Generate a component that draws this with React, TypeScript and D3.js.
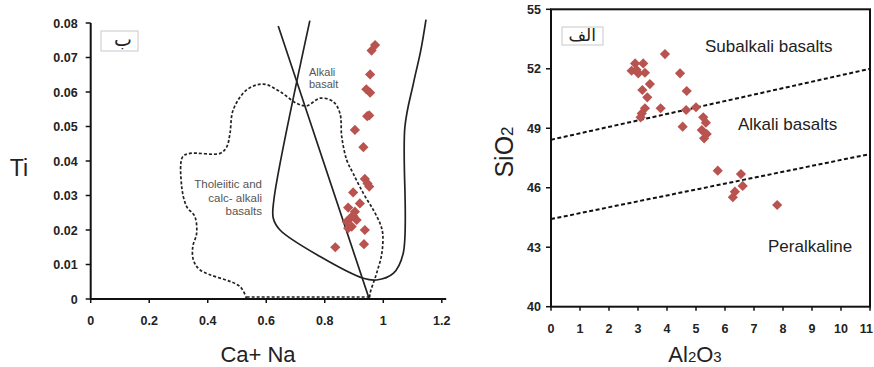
import * as d3 from 'd3';

// ---- left diagram: Ti vs Ca+Na ----
const leftXTicks = [0, 0.2, 0.4, 0.6, 0.8, 1, 1.2];
const leftYTicks = [0, 0.01, 0.02, 0.03, 0.04, 0.05, 0.06, 0.07, 0.08];

// samples [Ca+Na, Ti]
const leftSamples: [number, number][] = [
  [0.972, 0.0736], [0.96, 0.072], [0.955, 0.0651], [0.942, 0.0608], [0.955, 0.0598],
  [0.945, 0.053], [0.952, 0.0532], [0.903, 0.049], [0.932, 0.044], [0.937, 0.0348],
  [0.952, 0.0326], [0.946, 0.0335], [0.897, 0.0309], [0.92, 0.0277], [0.88, 0.0265],
  [0.903, 0.0253], [0.889, 0.0236], [0.909, 0.0229], [0.875, 0.0224], [0.892, 0.021],
  [0.88, 0.0205], [0.898, 0.024], [0.937, 0.02], [0.934, 0.0159], [0.836, 0.015],
];

// straight boundary crossing the field
const dividerLine: [number, number][] = [[0.641, 0.0791], [0.952, 0]];

// alkali basalt field boundary (solid)
const alkaliField: [number, number][] = [
  [0.749, 0.0807], [0.626, 0.0287], [0.624, 0.0234], [0.647, 0.02], [0.784, 0.0123],
  [0.932, 0.006], [0.977, 0.0055], [1.034, 0.0074], [1.068, 0.0132], [1.074, 0.05],
  [1.103, 0.0625], [1.128, 0.072], [1.146, 0.081],
];

// tholeiitic & calc-alkali field (dashed)
const tholeiiticField: [number, number][] = [
  [0.533, 0], [0.51, 0.0036], [0.374, 0.0084], [0.351, 0.0113], [0.349, 0.0152],
  [0.362, 0.019], [0.356, 0.0239], [0.328, 0.0268], [0.311, 0.0326], [0.314, 0.0412],
  [0.339, 0.0422], [0.442, 0.0422], [0.465, 0.0441], [0.476, 0.048], [0.487, 0.0548],
  [0.533, 0.0606], [0.59, 0.0623], [0.647, 0.0601], [0.704, 0.0567], [0.738, 0.056],
  [0.784, 0.0582], [0.829, 0.0572], [0.852, 0.0538], [0.858, 0.047], [0.875, 0.0403],
  [0.897, 0.0364], [0.932, 0.0306], [0.966, 0.0258], [0.989, 0.0219], [0.998, 0.019],
  [0.995, 0.0132], [0.977, 0.0074], [0.955, 0.0017], [0.953, 0],
];
const tholeiiticBase: [number, number][] = [[0.533, 0], [0.953, 0]];

// ---- right diagram: SiO2 vs Al2O3 ----
const rightXTicks = [0, 1, 2, 3, 4, 5, 6, 7, 8, 9, 10, 11];
const rightYTicks = [40, 43, 46, 49, 52, 55];

// samples [Al2O3, SiO2]
const rightSamples: [number, number][] = [
  [3.93, 52.74], [2.9, 52.27], [3.18, 52.27], [2.78, 51.9], [3.01, 51.77],
  [3.24, 51.8], [2.95, 51.95], [4.45, 51.77], [3.41, 51.23], [4.68, 50.88],
  [3.15, 50.93], [3.32, 50.56], [3.78, 50.01], [3.24, 50.01], [3.13, 49.75],
  [3.09, 49.55], [4.66, 49.92], [5.0, 50.06], [5.25, 49.55], [5.34, 49.28],
  [4.54, 49.08], [5.2, 48.91], [5.37, 48.71], [5.28, 48.49], [5.75, 46.86],
  [6.55, 46.69], [6.61, 46.09], [6.34, 45.8], [6.27, 45.52], [7.8, 45.13],
];

const upperDivider: [number, number][] = [[0, 48.42], [11, 52.0]];
const lowerDivider: [number, number][] = [[0, 44.42], [11, 47.7]];

const RED = '#b9534f';
const FONT = 'Liberation Sans, Arial, sans-serif';
const ARABIC = 'DejaVu Sans, sans-serif';

export default function App() {
  const lx = d3.scaleLinear().domain([0, 1.2]).range([90.7, 441.8]);
  const ly = d3.scaleLinear().domain([0, 0.08]).range([299, 23]);
  const rx = d3.scaleLinear().domain([0, 11]).range([551, 870]);
  const ry = d3.scaleLinear().domain([40, 55]).range([306.7, 9.3]);

  const lLine = d3.line<[number, number]>().x(d => lx(d[0])).y(d => ly(d[1]));
  const lCurve = d3.line<[number, number]>().x(d => lx(d[0])).y(d => ly(d[1]))
    .curve(d3.curveCatmullRom.alpha(0.5));
  const rLine = d3.line<[number, number]>().x(d => rx(d[0])).y(d => ry(d[1]));
  const diamond = d3.symbol(d3.symbolSquare, 52)() as string;

  return (
    <svg width={874} height={367} style={{ position: 'absolute', left: 0, top: 0, background: '#fff' }}
      fontFamily={FONT}>
      {/* ===== left ===== */}
      <g>
        <path d={lCurve(tholeiiticField) as string} fill="none" stroke="#222" strokeWidth={1.7} strokeDasharray="3,2" />
        <path d={lLine(tholeiiticBase) as string} fill="none" stroke="#222" strokeWidth={1.7} strokeDasharray="3,2"
          transform="translate(0,-2)" />
        <path d={lLine(dividerLine) as string} fill="none" stroke="#222" strokeWidth={1.7} />
        <path d={lCurve(alkaliField) as string} fill="none" stroke="#222" strokeWidth={1.7} />

        {leftSamples.map((d, i) => (
          <path key={i} d={diamond} fill={RED}
            transform={`translate(${lx(d[0])},${ly(d[1])}) rotate(45)`} />
        ))}

        {/* axes */}
        <line x1={lx(0)} x2={lx(1.215)} y1={ly(0)} y2={ly(0)} stroke="#111" strokeWidth={2} />
        <line x1={lx(0)} x2={lx(0)} y1={ly(0)} y2={ly(0.08)} stroke="#111" strokeWidth={2} />
        {leftXTicks.map(t => (
          <g key={t}>
            <line x1={lx(t)} x2={lx(t)} y1={ly(0)} y2={ly(0) + 4} stroke="#111" strokeWidth={1.5} />
            <text x={lx(t)} y={ly(0) + 26} textAnchor="middle" fontSize={12.5} fontWeight="bold" fill="#222">{t}</text>
          </g>
        ))}
        {leftYTicks.map(t => (
          <g key={t}>
            <line x1={lx(0) - 5} x2={lx(0)} y1={ly(t)} y2={ly(t)} stroke="#111" strokeWidth={1.5} />
            <text x={lx(0) - 13} y={ly(t) + 4.5} textAnchor="end" fontSize={12.5} fontWeight="bold" fill="#222">{t}</text>
          </g>
        ))}
        <text x={19} y={176} textAnchor="middle" fontSize={23} fill="#222">Ti</text>
        <text x={258} y={362} textAnchor="middle" fontSize={22} fill="#222">Ca+ Na</text>

        <text fontSize={11} fill="#555">
          <tspan x={309} y={76}>Alkali</tspan>
          <tspan x={309} y={88}>basalt</tspan>
        </text>
        <text fontSize={11.5} fill="#555" textAnchor="end">
          <tspan x={262} y={188}>Tholeiitic and</tspan>
          <tspan x={262} y={201.5}>calc- alkali</tspan>
          <tspan x={262} y={214.5}>basalts</tspan>
        </text>

        <rect x={101} y={31} width={37} height={20} fill="#fff" stroke="#c8c8c8" />
        <text x={132} y={46} textAnchor="end" fontSize={19} fontFamily={ARABIC} fill="#222">ب</text>
      </g>

      {/* ===== right ===== */}
      <g>
        <path d={rLine(upperDivider) as string} fill="none" stroke="#111" strokeWidth={2} strokeDasharray="4,2.5" />
        <path d={rLine(lowerDivider) as string} fill="none" stroke="#111" strokeWidth={2} strokeDasharray="4,2.5" />

        {rightSamples.map((d, i) => (
          <path key={i} d={diamond} fill={RED}
            transform={`translate(${rx(d[0])},${ry(d[1])}) rotate(45)`} />
        ))}

        <rect x={rx(0)} y={ry(55)} width={rx(11) - rx(0)} height={ry(40) - ry(55)}
          fill="none" stroke="#111" strokeWidth={2} />
        {rightXTicks.map((t, i) => {
          const last = i === rightXTicks.length - 1;
          return (
            <g key={t}>
              <line x1={rx(t)} x2={rx(t)} y1={ry(40)} y2={ry(40) + 4} stroke="#111" strokeWidth={1.5} />
              <text x={last ? rx(t) + 3 : rx(t)} y={ry(40) + 26} textAnchor={last ? 'end' : 'middle'}
                fontSize={12.5} fontWeight="bold" fill="#222">{t}</text>
            </g>
          );
        })}
        {rightYTicks.map(t => (
          <g key={t}>
            <line x1={rx(0) - 5} x2={rx(0)} y1={ry(t)} y2={ry(t)} stroke="#111" strokeWidth={1.5} />
            <text x={rx(0) - 10} y={ry(t) + 4.5} textAnchor="end" fontSize={12.5} fontWeight="bold" fill="#222">{t}</text>
          </g>
        ))}

        <text transform="translate(513,152) rotate(-90)" textAnchor="middle" fontSize={25} fill="#222">
          SiO<tspan fontSize={17}>2</tspan>
        </text>
        <text x={695} y={362} textAnchor="middle" fontSize={22} fill="#222">
          Al<tspan fontSize={15}>2</tspan>O<tspan fontSize={15}>3</tspan>
        </text>

        <text x={705} y={52} fontSize={17} fill="#222">Subalkali basalts</text>
        <text x={738} y={130} fontSize={17} fill="#222">Alkali basalts</text>
        <text x={768} y={252} fontSize={17} fill="#222">Peralkaline</text>

        <rect x={562} y={27} width={41} height={18} fill="#fff" stroke="#c8c8c8" />
        <text x={596} y={41} textAnchor="end" fontSize={17} fontFamily={ARABIC} fill="#222">الف</text>
      </g>
    </svg>
  );
}
